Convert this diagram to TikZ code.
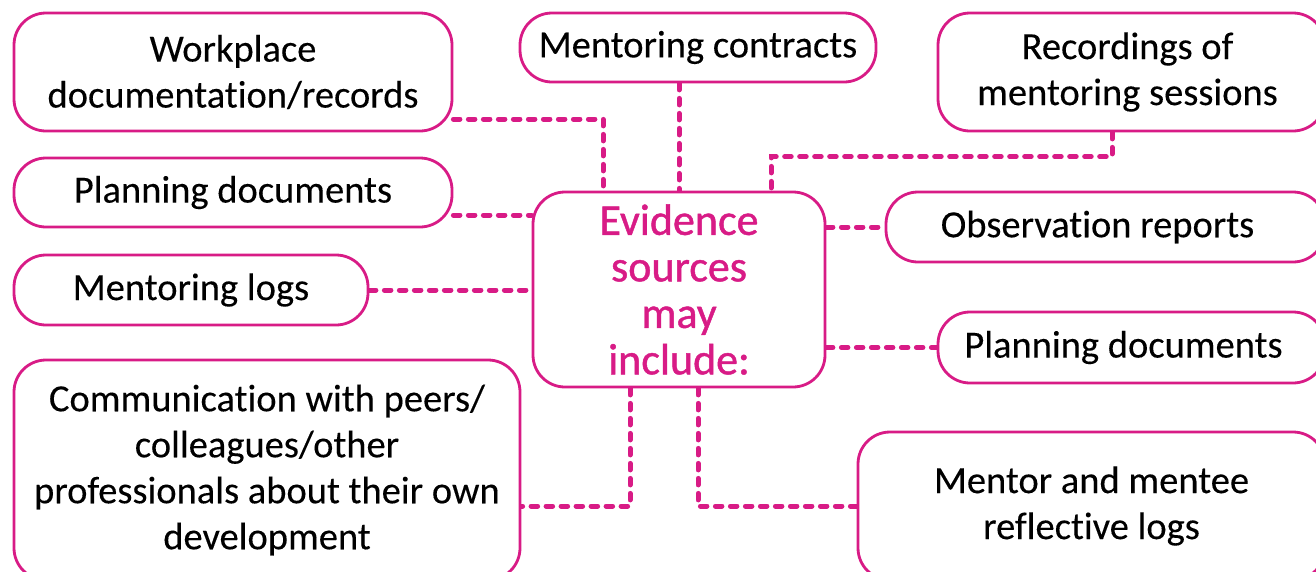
\documentclass[tikz,border=0pt]{standalone}
\usepackage{fontspec}
\setmainfont{Carlito}[Ligatures={NoCommon},FakeBold=0.2]
\newfontfamily\evfont{Carlito}[Ligatures={NoCommon},FakeBold=1.0]
\usetikzlibrary{backgrounds}
\definecolor{mag}{RGB}{216,27,134}
\tikzset{
  box/.style={draw=mag, line width=2.8pt, fill=white, rounded corners=32pt,
    inner sep=0pt, align=center, font=\fontsize{38.5}{46}\selectfont, text=black},
  evbox/.style={box, text=mag, font=\evfont\fontsize{44}{46.5}\selectfont},
  conn/.style={draw=mag, line width=5pt, line cap=round, dash pattern=on 6.5pt off 8.5pt}
}
\begin{document}
\begin{tikzpicture}[x=1pt,y=-1pt]
\useasboundingbox (0,0) rectangle (1316,571);
\clip (0,0) rectangle (1316,571);
\node[evbox, minimum width=292pt, minimum height=195pt] (ev) at (679,289.5) {Evidence\\sources\\may\\include:};
\node[box, minimum width=438pt, minimum height=118pt] (wp) at (233,72) {Workplace\\documentation/records};
\node[box, minimum width=356pt, minimum height=69pt] (mc) at (698,47.5) {Mentoring contracts};
\node[box, minimum width=387pt, minimum height=118pt] (rec) at (1131.5,72) {\hspace*{-8pt}Recordings of\\\hspace*{-8pt}mentoring sessions};
\node[box, minimum width=438pt, minimum height=69pt] (pl) at (233,192.5) {Planning documents};
\node[box, minimum width=354pt, minimum height=70pt] (ml) at (191,290) {Mentoring logs};
\node[box, minimum width=506pt, minimum height=220pt] (com) at (267,470) {Communication with peers/\\colleagues/other\\professionals about their own\\development};
\node[box, minimum width=439pt, minimum height=70pt] (obs) at (1105.5,227) {\hspace*{-16pt}Observation reports};
\node[box, minimum width=387pt, minimum height=71pt] (pr) at (1131.5,347.5) {\hspace*{-16pt}Planning documents};
\node[box, minimum width=467pt, minimum height=148pt] (men) at (1091.5,506) {Mentor and mentee\\reflective logs};
\begin{scope}[on background layer]
\draw[conn] ([yshift=-47pt]wp.east) -| ([xshift=-76pt]ev.north);
\draw[conn] (ev.north |- mc.south) -- (ev.north);
\draw[conn] ([xshift=-19.5pt]rec.south) |- ([xshift=92pt,yshift=34pt]ev.north) -- ([xshift=92pt]ev.north);
\draw[conn] ([yshift=-22.5pt]pl.east) -- ([yshift=-22.5pt]pl.east -| ev.west);
\draw[conn] (ml.east) -- (ml.east -| ev.west);
\draw[conn] (ev.east |- obs.west) -- (obs.west);
\draw[conn] (ev.east |- pr.west) -- (pr.west);
\draw[conn] ([xshift=-49pt]ev.south) |- ([yshift=-36pt]com.east);
\draw[conn] ([xshift=19pt]ev.south) |- (men.west);
\end{scope}
\end{tikzpicture}
\end{document}
